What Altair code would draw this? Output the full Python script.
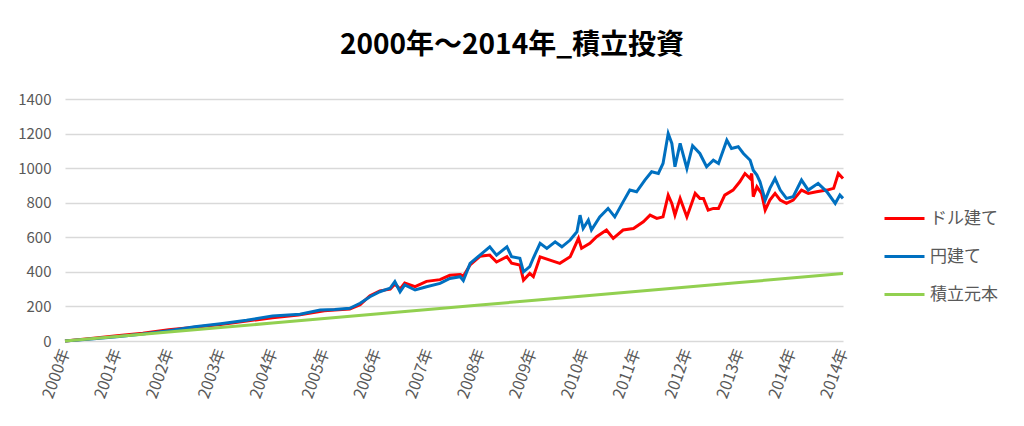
import json
import altair as alt
import pandas as pd

# x positions are in years since 2000-01 (0 = start of 2000, 15 = end of 2014)
series_names = ["ドル建て", "円建て", "積立元本"]
series_colors = ["#FF0000", "#0070C0", "#92D050"]
tick_labels = ["2000年", "2001年", "2002年", "2003年", "2004年", "2005年", "2006年", "2007年",
               "2008年", "2009年", "2010年", "2011年", "2012年", "2013年", "2014年", "2014年"]
y_ticks = [0, 200, 400, 600, 800, 1000, 1200, 1400]

red_x = [0, 0.5, 1.0, 1.5, 2.0, 2.5, 3.0, 3.5, 4.0, 4.5, 5.0, 5.2, 5.49, 5.69, 5.88, 6.07, 6.27,
         6.36, 6.46, 6.55, 6.75, 6.97, 7.23, 7.42, 7.62, 7.68, 7.81, 8.0, 8.19, 8.32, 8.52, 8.61,
         8.77, 8.84, 8.96, 9.03, 9.16, 9.35, 9.54, 9.74, 9.90, 9.96, 10.12, 10.25, 10.44, 10.57,
         10.76, 10.96, 11.15, 11.28, 11.41, 11.53, 11.63, 11.70, 11.76, 11.86, 11.99, 12.15,
         12.24, 12.31, 12.40, 12.50, 12.60, 12.72, 12.88, 13.01, 13.11, 13.21, 13.24, 13.27,
         13.34, 13.43, 13.50, 13.59, 13.69, 13.79, 13.91, 14.04, 14.20, 14.33, 14.49, 14.69,
         14.82, 14.91, 15.0]
red_y = [0, 15, 30, 45, 65, 80, 95, 115, 135, 150, 175, 180, 185, 210, 262, 290, 300,
         330, 300, 335, 315, 345, 355, 380, 385, 375, 440, 490, 497, 457, 488, 450,
         440, 352, 391, 372, 487, 468, 449, 487, 594, 536, 565, 603, 642, 594,
         642, 651, 690, 728, 709, 718, 844, 796, 728, 825, 718, 854,
         825, 825, 757, 767, 767, 844, 873, 921, 969, 940, 969, 835,
         892, 854, 757, 815, 854, 815, 796, 815, 873, 854, 863, 873,
         883, 969, 940]

blue_x = [0, 0.5, 1.0, 1.5, 2.0, 2.5, 3.0, 3.5, 4.0, 4.53, 4.92, 5.2, 5.49, 5.69, 5.88, 6.07,
          6.27, 6.36, 6.46, 6.55, 6.75, 6.97, 7.23, 7.42, 7.62, 7.68, 7.81, 8.0, 8.19, 8.32,
          8.52, 8.61, 8.77, 8.84, 8.96, 9.03, 9.16, 9.29, 9.45, 9.58, 9.74, 9.87, 9.93, 9.99,
          10.09, 10.15, 10.31, 10.47, 10.60, 10.76, 10.89, 11.02, 11.18, 11.31, 11.44, 11.53,
          11.63, 11.70, 11.76, 11.86, 11.99, 12.1, 12.24, 12.37, 12.50, 12.60, 12.76, 12.85,
          12.98, 13.08, 13.21, 13.27, 13.34, 13.40, 13.50, 13.59, 13.69, 13.79, 13.91, 14.04,
          14.20, 14.33, 14.52, 14.69, 14.85, 14.94, 15.0]
blue_y = [0, 12, 25, 40, 60, 82, 100, 120, 145, 155, 179, 182, 189, 218, 256, 285,
          306, 343, 285, 324, 295, 314, 333, 362, 372, 350, 449, 497, 545, 497,
          545, 488, 478, 400, 430, 480, 565, 536, 574, 545, 584, 632, 728, 651,
          699, 642, 718, 767, 718, 805, 873, 863, 931, 979, 969, 1027,
          1200, 1143, 1008, 1143, 998, 1130, 1085, 1008, 1046, 1027, 1162, 1114,
          1124, 1085, 1046, 988, 960, 921, 815, 883, 940, 873, 825, 835,
          931, 873, 912, 863, 796, 844, 825]

green_x = [0, 1, 2, 3, 4, 5, 6, 7, 8, 9, 10, 11, 12, 13, 14, 15]
green_y = [0, 26, 52, 78, 104, 130, 156, 182, 208, 234, 260, 286, 312, 338, 364, 390]

rows = []
for name, xs, ys in [(series_names[0], red_x, red_y),
                     (series_names[1], blue_x, blue_y),
                     (series_names[2], green_x, green_y)]:
    for xv, yv in zip(xs, ys):
        rows.append({"series": name, "t": xv, "value": yv})
df = pd.DataFrame(rows)

font = "Noto Sans CJK JP"
label_expr = json.dumps(tick_labels, ensure_ascii=False) + "[datum.value]"

chart = alt.Chart(df).mark_line(strokeWidth=3).encode(
    x=alt.X("t:Q", scale=alt.Scale(domain=[0, 15], nice=False, zero=False),
            axis=alt.Axis(values=list(range(16)), labelExpr=label_expr, labelAngle=-70,
                          title=None, grid=False, ticks=False, domain=False,
                          labelFontSize=16, labelColor="#595959", labelFont=font,
                          labelPadding=8, labelOverlap=False)),
    y=alt.Y("value:Q", scale=alt.Scale(domain=[0, 1400], nice=False),
            axis=alt.Axis(values=y_ticks, format="d", title=None, ticks=False, domain=False,
                          gridColor="#d9d9d9", gridWidth=1.5, labelFontSize=15,
                          labelColor="#595959", labelFont=font, labelPadding=14)),
    color=alt.Color("series:N",
                    scale=alt.Scale(domain=series_names, range=series_colors),
                    sort=series_names,
                    legend=alt.Legend(title=None, orient="none", legendX=818, legendY=98,
                                      symbolType="stroke", symbolSize=1600,
                                      symbolStrokeWidth=3, labelFontSize=17,
                                      labelColor="#595959", labelFont=font,
                                      rowPadding=8, labelOffset=4)),
).properties(
    width=778,
    height=242,
    autosize=alt.AutoSizeParams(type="none"),
    padding={"left": 57, "top": 91, "right": 173, "bottom": 77},
    title=alt.TitleParams("2000年～2014年_積立投資", fontSize=28, fontWeight="bold",
                          font=font, color="#000000", anchor="middle", dx=58, offset=32),
).configure_view(stroke=None)

chart.save("out.html", embed_options={"renderer": "svg", "actions": False})
